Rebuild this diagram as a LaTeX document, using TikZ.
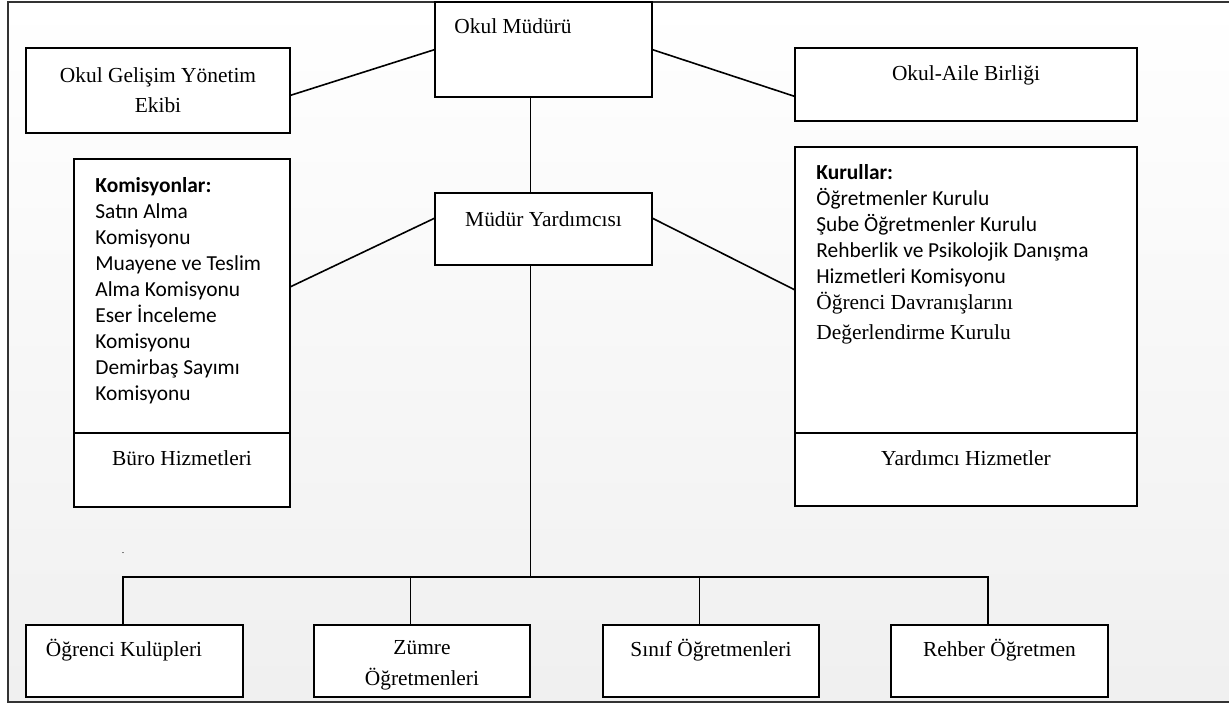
\documentclass[tikz,border=0pt]{standalone}
\usepackage{fontspec}
\setmainfont{Liberation Serif}
\newfontfamily\calibri{Carlito}
\usetikzlibrary{positioning}

\begin{document}
\begin{tikzpicture}[
    x=0.5pt, y=-0.5pt,
    box/.style={rectangle, draw, fill=white, line width=1pt, outer sep=0pt, anchor=north west, font=\fontsize{10.7}{13}\selectfont},
    topbox/.style={box, inner ysep=0pt, text height=16.5pt, text depth=#1},
    lst/.style={anchor=north west, align=left, inner sep=0pt, font=\calibri\fontsize{10.7}{13}\selectfont},
    link/.style={line width=0.8pt}
]
\useasboundingbox (0,0) rectangle (1229,704);

% Frame
\shade[top color=white, bottom color=black!6] (8,2) rectangle (1229,702);
\draw[line width=0.8pt, black!80] (1229,2) -- (8,2) -- (8,702) -- (1229,702);

% Top level
\node[topbox=31.5pt, text height=16pt, minimum width=108.5pt] (mudur) at (435,2) {Okul Müdürü\hspace*{30.5pt}};
\node[box, align=center, minimum width=132pt, minimum height=42.5pt] (gelisim) at (26,48) {Okul Gelişim Yönetim\\[2pt]Ekibi};
\node[topbox=20pt, minimum width=171pt] (aile) at (795,48) {Okul-Aile Birliği};

% Second level
\node[topbox=19pt, text height=17pt, minimum width=108.5pt] (myard) at (435,193) {Müdür Yardımcısı};
\node[box, minimum width=108pt, minimum height=137pt] (kom) at (74,159) {};
\node[topbox=20.5pt, minimum width=108pt, below=0pt of kom] (buro) {Büro Hizmetleri};
\node[box, minimum width=171pt, minimum height=143pt] (kurul) at (795,147) {};
\node[topbox=20pt, minimum width=171pt, below=0pt of kurul] (yard) {Yardımcı Hizmetler};

\node[lst] (komlist) at (95,177) {\textbf{Komisyonlar:}\\Satın Alma\\Komisyonu\\Muayene ve Teslim\\Alma Komisyonu\\Eser İnceleme\\Komisyonu\\Demirbaş Sayımı\\Komisyonu};
\node[lst] (kurlist) at (816,164) {\textbf{Kurullar:}\\Öğretmenler Kurulu\\Şube Öğretmenler Kurulu\\Rehberlik ve Psikolojik Danışma\\Hizmetleri Komisyonu\\{\rmfamily Öğrenci Davranışlarını}\\[2pt]{\rmfamily Değerlendirme Kurulu}};
\node[font=\tiny, inner sep=0pt] (dot) at (123,553) {.};

% Bottom level
\node[topbox=20.5pt, text height=15.5pt, minimum width=108.5pt] (kulup) at (26,625) {Öğrenci Kulüpleri\hspace*{10.5pt}};
\node[box, align=center, inner ysep=0pt, minimum width=108pt, minimum height=36pt] (zumre) at (314,625) {\rule{0pt}{11.8pt}Zümre\\[2.5pt]Öğretmenleri};
\node[topbox=20.5pt, text height=15.5pt, minimum width=108pt] (sinif) at (603,625) {Sınıf Öğretmenleri};
\node[topbox=20.5pt, text height=15.5pt, minimum width=108.5pt] (rehber) at (891,625) {Rehber Öğretmen};

% Lines
\coordinate (bus) at (530.5,577);
\draw[link] ([yshift=-2.5pt]gelisim.east) -- (mudur.west);
\draw[link] (mudur.east) -- ([yshift=-6pt]aile.west);
\draw[link] ([xshift=-6.5pt]mudur.south) -- ([xshift=-6.5pt]myard.north);
\draw[link] ([yshift=5.5pt]myard.west) -- ([yshift=4.5pt]kom.east);
\draw[link] ([yshift=5.5pt]myard.east) -- (kurul.west);
\draw[link] ([xshift=-6.5pt]myard.south) -- (bus);
\foreach \n in {kulup,zumre,sinif,rehber}
    \draw[link] ([xshift=-5.75pt]\n.north) |- (bus);

\end{tikzpicture}
\end{document}
